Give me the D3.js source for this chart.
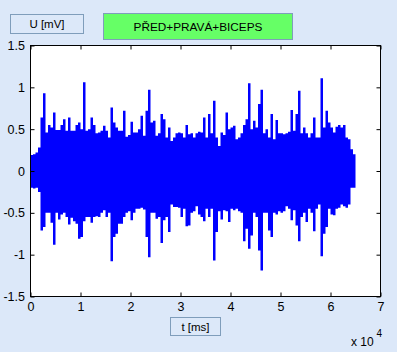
<!DOCTYPE html>
<html>
<head>
<meta charset="utf-8">
<title>EMG</title>
<style>
    body { margin: 0; background: #dce8f9; }
    svg { font-family: "Liberation Sans", Arial, sans-serif; }
    .axis text { font-size: 12.5px; fill: #000; }
    .axis line { stroke: #000; }
    .box { stroke: #7f9dbb; stroke-width: 1; }
</style>
</head>
<body>
<script src="https://cdnjs.cloudflare.com/ajax/libs/d3/7.8.5/d3.min.js"></script>
<script>
    // envelope of the signal, one max/min pair per 500 ms bin (mV)
    var binMs = 500;
    var upper = [
        0.19, 0.20, 0.22, 0.28, 0.64, 0.93, 0.46, 0.55, 0.52, 0.70,
        0.49, 0.49, 0.55, 0.62, 0.48, 0.64, 0.48, 0.48, 0.55, 0.58,
        0.50, 1.06, 0.48, 0.50, 0.64, 0.55, 0.45, 0.46, 0.48, 0.54,
        0.48, 0.40, 0.76, 0.58, 0.52, 0.48, 0.48, 0.72, 0.41, 0.43,
        0.59, 0.46, 0.46, 0.50, 0.66, 0.42, 0.72, 0.97, 0.58, 0.60,
        0.42, 0.45, 0.68, 0.62, 0.40, 0.52, 0.36, 0.40, 0.45, 0.46,
        0.45, 0.40, 0.55, 0.44, 0.45, 0.40, 0.45, 0.47, 0.46, 0.64,
        0.40, 0.68, 0.45, 0.84, 0.40, 0.30, 0.46, 0.43, 0.70, 0.50,
        0.52, 0.54, 0.38, 0.40, 0.45, 0.55, 0.62, 1.05, 0.50, 0.60,
        0.52, 0.80, 0.97, 0.45, 0.50, 0.40, 0.68, 0.38, 0.61, 0.45,
        0.45, 0.44, 0.45, 0.47, 0.73, 0.48, 0.68, 0.96, 0.45, 0.52,
        0.45, 0.40, 0.45, 0.64, 0.40, 0.40, 1.11, 0.52, 0.72, 0.58,
        0.52, 0.46, 0.53, 0.55, 0.52, 0.55, 0.40, 0.38, 0.26, 0.20
    ];
    var lower = [
        -0.20, -0.21, -0.20, -0.25, -0.71, -0.67, -0.50, -0.50, -0.62, -0.88,
        -0.50, -0.58, -0.52, -0.50, -0.55, -0.64, -0.56, -0.60, -0.63, -0.81,
        -0.79, -0.60, -0.55, -0.55, -0.62, -0.55, -0.54, -0.55, -0.50, -0.47,
        -0.55, -0.50, -1.08, -0.79, -0.75, -0.63, -0.63, -0.55, -0.50, -0.48,
        -0.59, -0.50, -0.45, -0.45, -0.44, -0.46, -0.79, -1.03, -0.50, -0.50,
        -0.57, -0.55, -0.86, -0.59, -0.55, -0.73, -0.40, -0.43, -0.43, -0.44,
        -0.55, -0.45, -0.66, -0.65, -0.50, -0.48, -0.42, -0.52, -0.55, -0.60,
        -0.45, -0.55, -0.45, -1.07, -0.73, -0.48, -0.58, -0.47, -0.48, -0.61,
        -0.45, -0.47, -0.45, -0.48, -0.50, -0.84, -0.69, -0.93, -0.77, -0.50,
        -0.55, -0.95, -1.19, -0.50, -0.50, -0.71, -0.79, -0.50, -0.52, -0.48,
        -0.50, -0.48, -0.42, -0.45, -0.59, -0.47, -0.65, -0.84, -0.55, -0.50,
        -0.61, -0.45, -0.50, -0.72, -0.45, -0.40, -1.02, -0.75, -0.67, -0.45,
        -0.52, -0.53, -0.45, -0.44, -0.40, -0.42, -0.44, -0.40, -0.20, -0.20
    ];
    var xTicks = [0, 10000, 20000, 30000, 40000, 50000, 60000, 70000];
    var yTicks = [-1.5, -1, -0.5, 0, 0.5, 1, 1.5];
    var title = "PŘED+PRAVÁ+BICEPS";
    var yLabel = "U [mV]";
    var xLabel = "t [ms]";

    var W = 397, H = 352;
    var plot = { left: 30.5, right: 380.5, top: 45.5, bottom: 296.5 };

    var svg = d3.select("body").append("svg")
        .attr("width", W)
        .attr("height", H);

    var x = d3.scaleLinear().domain([0, 70000]).range([plot.left, plot.right]);
    var y = d3.scaleLinear().domain([-1.5, 1.5]).range([plot.bottom, plot.top]);

    // plot background
    svg.append("rect")
        .attr("x", plot.left).attr("y", plot.top)
        .attr("width", plot.right - plot.left)
        .attr("height", plot.bottom - plot.top)
        .attr("fill", "#fff");

    // signal envelope
    var pts = upper.map(function(u, i) {
        return { t: i * binMs, u: u, l: lower[i] };
    });
    var last = pts[pts.length - 1];
    pts.push({ t: pts.length * binMs, u: last.u, l: last.l });

    var area = d3.area()
        .x(function(d) { return x(d.t); })
        .y0(function(d) { return y(d.l); })
        .y1(function(d) { return y(d.u); })
        .curve(d3.curveStepAfter);

    svg.append("path")
        .datum(pts)
        .attr("d", area)
        .attr("fill", "#0000ff");

    // axes, ticks inside
    svg.append("g").attr("class", "axis")
        .attr("transform", "translate(0," + plot.bottom + ")")
        .call(d3.axisBottom(x).tickValues(xTicks).tickSize(-4).tickPadding(6)
            .tickFormat(function(d) { return d / 10000; }));
    svg.append("g").attr("class", "axis")
        .attr("transform", "translate(0," + plot.top + ")")
        .call(d3.axisTop(x).tickValues(xTicks).tickSize(-4).tickFormat(""));
    svg.append("g").attr("class", "axis")
        .attr("transform", "translate(" + plot.left + ",0)")
        .call(d3.axisLeft(y).tickValues(yTicks).tickSize(-4).tickPadding(5.5)
            .tickFormat(function(d) { return d; }));
    svg.append("g").attr("class", "axis")
        .attr("transform", "translate(" + plot.right + ",0)")
        .call(d3.axisRight(y).tickValues(yTicks).tickSize(-4).tickFormat(""));
    svg.selectAll(".axis .domain").remove();

    // frame
    svg.append("rect")
        .attr("x", plot.left).attr("y", plot.top)
        .attr("width", plot.right - plot.left)
        .attr("height", plot.bottom - plot.top)
        .attr("fill", "none")
        .attr("stroke", "#000");

    // exponent
    var ex = svg.append("text")
        .attr("x", 351).attr("y", 346)
        .attr("font-size", 12)
        .text("x 10");
    svg.append("text")
        .attr("x", 376.5).attr("y", 337)
        .attr("font-size", 10)
        .text("4");

    // label boxes
    function labelBox(x0, y0, w, h, fill, txt, size) {
        svg.append("rect")
            .attr("class", "box")
            .attr("x", x0 + 0.5).attr("y", y0 + 0.5)
            .attr("width", w).attr("height", h)
            .attr("fill", fill);
        svg.append("text")
            .attr("x", x0 + 0.5 + w / 2).attr("y", y0 + 0.5 + h / 2)
            .attr("dy", "0.36em")
            .attr("text-anchor", "middle")
            .attr("font-size", size)
            .text(txt);
    }
    labelBox(10, 14, 73, 19, "#dce8f9", yLabel, 11.5);
    labelBox(103, 13, 189, 26, "#66ff66", title, 11.8);
    labelBox(170, 317, 50, 18, "#dce8f9", xLabel, 11.5);
</script>
</body>
</html>
